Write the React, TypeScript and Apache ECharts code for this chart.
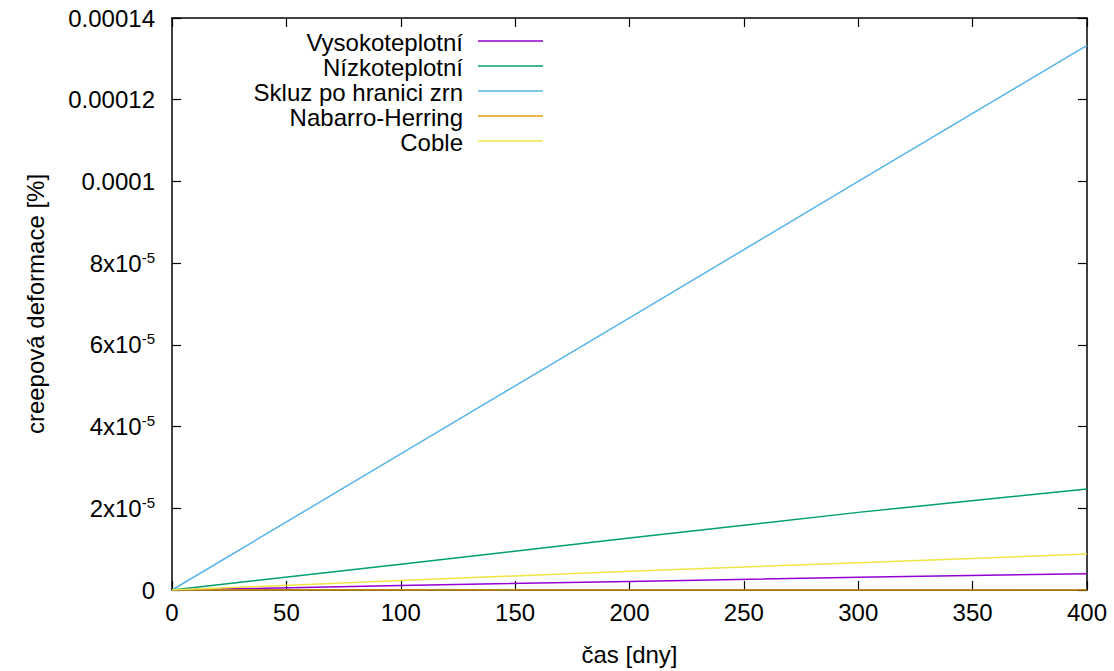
import React, { useEffect, useRef } from "react";
import * as echarts from "echarts";

const days = [0, 100, 200, 300, 400];
const vysokoteplotni = [0, 0.11e-5, 0.21e-5, 0.31e-5, 0.40e-5];
const nizkoteplotni = [0, 0.63e-5, 1.27e-5, 1.9e-5, 2.47e-5];
const skluz = [0, 3.33e-5, 6.66e-5, 10.0e-5, 13.33e-5];
const nabarro = [0, 5e-9, 1e-8, 1.5e-8, 2e-8];
const coble = [0, 0.23e-5, 0.46e-5, 0.67e-5, 0.88e-5];

const seriesNames = ["Vysokoteplotní", "Nízkoteplotní", "Skluz po hranici zrn", "Nabarro-Herring", "Coble"];
const seriesData = [vysokoteplotni, nizkoteplotni, skluz, nabarro, coble];
const colors = ["#9400D3", "#009E73", "#56B4E9", "#E69F00", "#F0E442"];

const yTickLabels = ["0", "2x10{s|-5}", "4x10{s|-5}", "6x10{s|-5}", "8x10{s|-5}", "0.0001", "0.00012", "0.00014"];

const FONT = "'Liberation Sans', Arial, Helvetica, sans-serif";

export default function App() {
  const ref = useRef<HTMLDivElement>(null);
  useEffect(() => {
    const chart = echarts.init(ref.current!, null, { renderer: "svg" });
    const left = 172, right = 1087, top = 18, bottom = 592;
    const fs = 24;
    const legendTop = 42, legendStep = 25;
    const graphic: any[] = [];
    seriesNames.forEach((n, i) => {
      const y = legendTop + i * legendStep;
      graphic.push({
        type: "text",
        x: 463,
        y,
        style: { text: n, fill: "#000", font: `${fs}px ${FONT}`, textAlign: "right", textVerticalAlign: "middle" },
      });
      graphic.push({
        type: "line",
        shape: { x1: 478, y1: y - 1, x2: 543, y2: y - 1 },
        style: { stroke: colors[i], lineWidth: 1.5 },
      });
    });
    const axisLine = { show: true, onZero: false, lineStyle: { color: "#000", width: 1.5 } };
    const tick = { show: true, inside: true, length: 9, lineStyle: { color: "#000", width: 1.2 } };
    chart.setOption({
      animation: false,
      textStyle: { fontFamily: FONT },
      grid: { left, right: 1114 - right, top, bottom: 671 - bottom, containLabel: false },
      xAxis: [
        {
          type: "value",
          min: 0,
          max: 400,
          interval: 50,
          position: "bottom",
          axisLine,
          axisTick: tick,
          splitLine: { show: false },
          axisLabel: { color: "#000", fontSize: fs, margin: 10, fontFamily: FONT },
          name: "čas [dny]",
          nameLocation: "middle",
          nameGap: 52,
          nameTextStyle: { color: "#000", fontSize: fs, fontFamily: FONT },
        },
        {
          type: "value",
          min: 0,
          max: 400,
          interval: 50,
          position: "top",
          axisLine,
          axisTick: tick,
          splitLine: { show: false },
          axisLabel: { show: false },
        },
      ],
      yAxis: [
        {
          type: "value",
          min: 0,
          max: 0.00014,
          interval: 0.00002,
          position: "left",
          axisLine,
          axisTick: tick,
          splitLine: { show: false },
          axisLabel: {
            color: "#000",
            fontSize: fs,
            margin: 17,
            fontFamily: FONT,
            formatter: (v: number) => yTickLabels[Math.round(v / 0.00002)] ?? "",
            rich: {
              s: { fontSize: 15, verticalAlign: "top", padding: [0, 0, 12, 0], color: "#000", fontFamily: FONT },
            },
          },
          name: "creepová deformace [%]",
          nameLocation: "middle",
          nameGap: 125,
          nameRotate: 90,
          nameTextStyle: { color: "#000", fontSize: fs, fontFamily: FONT },
        },
        {
          type: "value",
          min: 0,
          max: 0.00014,
          interval: 0.00002,
          position: "right",
          axisLine,
          axisTick: tick,
          splitLine: { show: false },
          axisLabel: { show: false },
        },
      ],
      series: seriesNames.map((n, i) => ({
        name: n,
        type: "line",
        showSymbol: false,
        symbol: "none",
        data: days.map((d, j) => [d, seriesData[i][j]]),
        lineStyle: { color: colors[i], width: 1.5 },
        itemStyle: { color: colors[i] },
      })),
      graphic,
    });
    return () => chart.dispose();
  }, []);
  return <div ref={ref} style={{ width: 1114, height: 671, position: "absolute", left: 0, top: 0 }} />;
}
